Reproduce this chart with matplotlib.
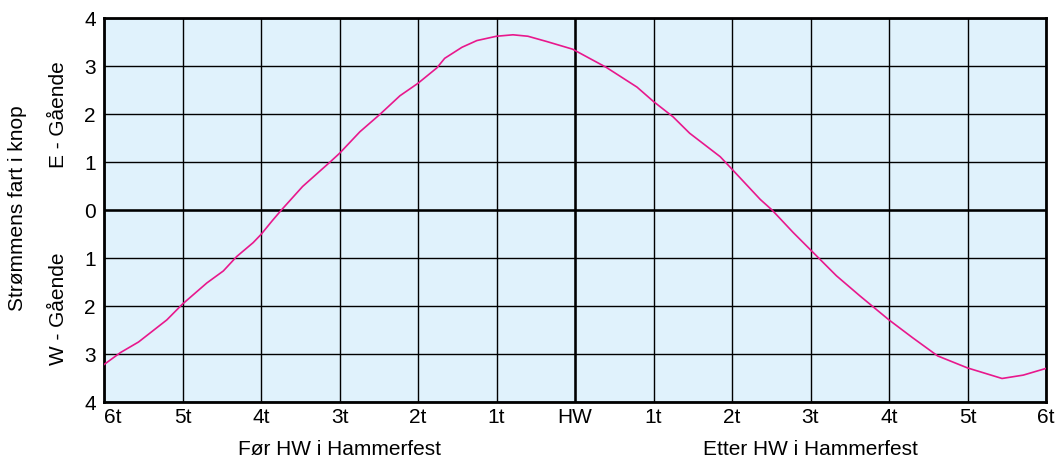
import matplotlib
matplotlib.use("Agg")
import matplotlib.pyplot as plt

plt.rcParams['font.family'] = ['Liberation Sans', 'DejaVu Sans']

# Hours relative to high water in Hammerfest (negative = before HW)
hours = [-6, -5.79, -5.56, -5.2, -5.0, -4.69, -4.48, -4.31, -4.1, -4.0, -3.86, -3.74,
         -3.47, -3.12, -3.0, -2.74, -2.48, -2.23, -2.0, -1.76, -1.66, -1.44, -1.25,
         -1.0, -0.79, -0.6, -0.36, -0.03, 0.4, 0.79, 1.0, 1.25, 1.46, 1.85, 2.0, 2.36,
         2.51, 2.78, 3.0, 3.33, 3.63, 4.0, 4.3, 4.62, 5.0, 5.44, 5.71, 6.0]
# Current speed in knots (positive = east-going, negative = west-going)
speed = [-3.22, -2.97, -2.75, -2.29, -1.96, -1.52, -1.27, -0.97, -0.68, -0.51, -0.23, 0.0,
         0.49, 1.0, 1.18, 1.63, 2.0, 2.38, 2.64, 2.96, 3.16, 3.39, 3.53,
         3.62, 3.65, 3.62, 3.51, 3.35, 2.97, 2.56, 2.26, 1.94, 1.6, 1.11, 0.85, 0.22,
         0.0, -0.47, -0.83, -1.37, -1.79, -2.29, -2.66, -3.04, -3.29, -3.51, -3.44, -3.30]

x_ticks = [-6, -5, -4, -3, -2, -1, 0, 1, 2, 3, 4, 5, 6]
x_labels = ['6t', '5t', '4t', '3t', '2t', '1t', 'HW', '1t', '2t', '3t', '4t', '5t', '6t']
y_ticks = [-4, -3, -2, -1, 0, 1, 2, 3, 4]
y_labels = ['4', '3', '2', '1', '0', '1', '2', '3', '4']

FS = 15

fig = plt.figure(figsize=(10.59, 4.61), dpi=100)
ax = fig.add_axes([104 / 1059, 59 / 461, 942 / 1059, 384 / 461])
ax.set_facecolor('#E0F2FC')

ax.set_xlim(-6, 6)
ax.set_ylim(-4, 4)

# grid
for xv in x_ticks:
    ax.axvline(xv, color='black', lw=1.0, zorder=1)
for yv in y_ticks:
    ax.axhline(yv, color='black', lw=1.0, zorder=1)
ax.axhline(0, color='black', lw=1.8, zorder=2)
ax.axvline(0, color='black', lw=1.8, zorder=2)

ax.plot(hours, speed, color='#E8188C', lw=1.2, zorder=3)

for s in ax.spines.values():
    s.set_linewidth(2.0)
    s.set_color('black')

ax.set_xticks(x_ticks)
ax.set_xticklabels(x_labels, fontsize=FS)
ax.set_yticks(y_ticks)
ax.set_yticklabels(y_labels, fontsize=FS)
ax.tick_params(axis='both', length=0)
ax.tick_params(axis='y', pad=6)
ax.tick_params(axis='x', pad=4)
ax.get_xticklabels()[0].set_ha('left')

# axis captions
ax.text(-3, -4.8, 'Før HW i Hammerfest', ha='center', va='top', fontsize=FS)
ax.text(3, -4.8, 'Etter HW i Hammerfest', ha='center', va='top', fontsize=FS)

fig.text(18 / 1059, 1 - 208 / 461, 'Strømmens fart i knop', rotation=90,
         ha='center', va='center', fontsize=FS)
fig.text(59 / 1059, 1 - 115 / 461, 'E - Gående', rotation=90,
         ha='center', va='center', fontsize=FS)
fig.text(59 / 1059, 1 - 309 / 461, 'W - Gående', rotation=90,
         ha='center', va='center', fontsize=FS)

fig.savefig('out.png', dpi=100, facecolor='white')
